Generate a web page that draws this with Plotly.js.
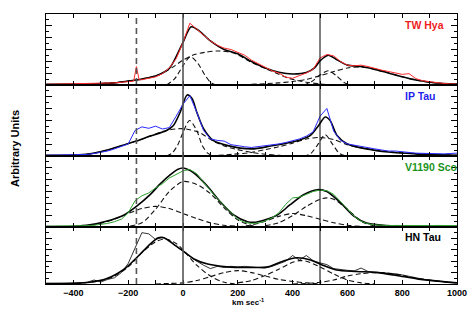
<!DOCTYPE html>
<html>
<head>
<meta charset="utf-8">
<script src="https://cdn.plot.ly/plotly-3.0.1.min.js"></script>
<style>
  html, body { margin: 0; padding: 0; background: #fff; }
  #chart { width: 471px; height: 314px; }
</style>
</head>
<body>
<div id="chart"></div>
<script>
// velocity grid of the observed profiles (km/s)
var vObs = [-500,-475,-450,-425,-400,-375,-350,-325,-300,-275,-250,-225,-200,-175,-150,-125,-100,-75,-50,-25,
            0,25,50,75,100,125,150,175,200,225,250,275,300,325,350,375,400,425,450,475,
            500,525,550,575,600,625,650,675,700,725,750,775,800,825,850,875,900,925,950,975,1000];
var twVel = [-500,-475,-450,-425,-400,-375,-350,-325,-300,-275,-250,-225,-200,-180,-170,-160,-150,-125,-100,-75,-50,-25,
            0,25,50,75,100,125,150,175,200,225,250,275,300,325,350,375,400,425,450,475,
            500,525,550,575,600,625,650,675,700,725,750,775,800,825,850,875,900,925,950,975,1000];

// --- TW Hya
var twObs = [0.01,0.012,0.01,0.013,0.012,0.015,0.016,0.02,0.022,0.026,0.03,0.038,0.048,0.055,0.26,0.07,0.075,0.1,0.115,0.16,0.24,0.37,
             0.6,0.87,0.79,0.71,0.62,0.56,0.52,0.5,0.46,0.42,0.35,0.3,0.24,0.2,0.17,0.11,0.095,0.13,0.17,0.22,
             0.38,0.43,0.41,0.33,0.28,0.27,0.28,0.26,0.23,0.21,0.19,0.17,0.15,0.16,0.09,0.06,0.045,0.03,0.022,0.016,0.012];
var twFitV = [-500,-400,-300,-250,-200,-150,-100,-50,-25,0,30,60,100,150,200,250,300,350,400,450,480,500,530,560,600,650,700,750,800,850,900,950,1000];
var twFit  = [0.01,0.012,0.02,0.03,0.055,0.085,0.127,0.235,0.4,0.6,0.82,0.76,0.62,0.5,0.44,0.33,0.24,0.18,0.155,0.175,0.24,0.34,0.42,0.36,0.28,0.26,0.22,0.17,0.115,0.07,0.04,0.02,0.014];
var twC1V = [-60,-30,0,27,55,80,100,120];
var twC1  = [0,0.09,0.27,0.4,0.3,0.14,0.04,0];
var twC2V = [-500,-400,-300,-200,-150,-100,-65,-30,0,35,80,125,185,250,320,390,450,500,550];
var twC2  = [0.005,0.01,0.02,0.055,0.085,0.13,0.19,0.27,0.35,0.42,0.46,0.48,0.45,0.32,0.2,0.09,0.04,0.015,0];
var twC3V = [440,470,500,530,560,590,615];
var twC3  = [0,0.05,0.14,0.2,0.13,0.03,0];
var twC4V = [250,350,400,450,500,550,600,650,700,750,800,850,900,950,1000];
var twC4  = [0.01,0.03,0.05,0.08,0.13,0.19,0.24,0.255,0.22,0.17,0.115,0.07,0.04,0.02,0.014];

// --- IP Tau
var ipObs = [0.01,0.012,0.01,0.012,0.014,0.018,0.022,0.035,0.05,0.07,0.1,0.13,0.17,0.36,0.41,0.39,0.42,0.38,0.4,0.56,
             0.73,0.85,0.62,0.36,0.24,0.22,0.21,0.16,0.14,0.13,0.12,0.13,0.14,0.15,0.17,0.19,0.21,0.24,0.28,0.34,
             0.56,0.67,0.35,0.22,0.17,0.15,0.13,0.12,0.1,0.085,0.07,0.07,0.055,0.05,0.04,0.035,0.03,0.035,0.03,0.035,0.04];
var ipFitV = [-500,-400,-340,-280,-220,-170,-120,-60,-35,-10,15,33,50,75,110,160,250,320,390,430,465,495,519,537,562,600,670,750,850,1000];
var ipFit  = [0.01,0.012,0.03,0.08,0.15,0.21,0.28,0.36,0.43,0.62,0.86,0.81,0.62,0.385,0.22,0.15,0.1,0.14,0.19,0.23,0.29,0.43,0.55,0.5,0.29,0.17,0.1,0.056,0.03,0.01];
var ipC1V = [-60,-40,-20,0,24,50,70,90,110];
var ipC1  = [0,0.04,0.15,0.33,0.5,0.36,0.15,0.04,0];
var ipC2V = [-500,-400,-340,-280,-220,-170,-120,-60,0,60,110,160,200,250,300,350,400];
var ipC2  = [0.005,0.012,0.03,0.08,0.15,0.21,0.28,0.36,0.385,0.33,0.21,0.13,0.09,0.05,0.025,0.01,0];
var ipC3V = [440,465,490,519,545,570,595];
var ipC3  = [0,0.03,0.15,0.3,0.17,0.04,0];
var ipC4V = [100,200,250,300,350,400,450,500,550,600,650,700,750,800,850,900,950,1000];
var ipC4  = [0,0.03,0.05,0.09,0.13,0.18,0.24,0.26,0.23,0.16,0.115,0.085,0.06,0.045,0.03,0.02,0.014,0.01];

// --- V1190 Sco
var vsObs = [0.01,0.01,0.012,0.01,0.012,0.015,0.02,0.025,0.035,0.05,0.075,0.11,0.2,0.37,0.44,0.48,0.55,0.61,0.69,0.74,
             0.79,0.81,0.75,0.63,0.51,0.4,0.3,0.2,0.11,0.065,0.05,0.055,0.085,0.13,0.2,0.32,0.41,0.42,0.46,0.5,
             0.52,0.51,0.46,0.36,0.25,0.15,0.08,0.045,0.03,0.022,0.02,0.022,0.02,0.02,0.022,0.02,0.02,0.022,0.02,0.02,0.02];
var vsFitV = [-500,-400,-340,-280,-215,-170,-120,-85,-45,-20,0,40,90,135,185,235,265,295,345,390,440,490,525,575,625,670,730,800,900,1000];
var vsFit  = [0.005,0.01,0.03,0.08,0.17,0.29,0.455,0.6,0.74,0.81,0.83,0.76,0.57,0.36,0.17,0.075,0.068,0.095,0.17,0.31,0.455,0.525,0.5,0.34,0.15,0.056,0.024,0.012,0.01,0.01];
var vsC1V = [-450,-400,-350,-300,-250,-200,-150,-100,-50,0,50,100,150,200,250];
var vsC1  = [0,0.005,0.02,0.05,0.11,0.19,0.26,0.29,0.26,0.19,0.12,0.06,0.025,0.01,0];
var vsC2V = [-250,-200,-150,-100,-50,0,50,100,150,200,250,300];
var vsC2  = [0,0.01,0.06,0.25,0.5,0.64,0.6,0.47,0.27,0.1,0.02,0];
var vsC3V = [200,250,300,350,400,450,500,550,600,650,700];
var vsC3  = [0,0.03,0.08,0.15,0.19,0.16,0.11,0.06,0.025,0.008,0];
var vsC4V = [300,350,400,450,500,525,550,600,650,700,750];
var vsC4  = [0.02,0.06,0.16,0.29,0.39,0.41,0.39,0.25,0.08,0.015,0];

// --- HN Tau
var hnObs = [0.01,0.012,0.015,0.01,0.02,0.015,0.03,0.07,0.035,0.08,0.11,0.2,0.36,0.62,0.9,0.88,0.78,0.82,0.77,0.66,
             0.57,0.48,0.4,0.33,0.27,0.31,0.29,0.31,0.3,0.31,0.3,0.3,0.28,0.31,0.35,0.4,0.5,0.42,0.5,0.41,
             0.37,0.34,0.27,0.25,0.24,0.23,0.28,0.22,0.21,0.2,0.2,0.18,0.16,0.14,0.11,0.085,0.06,0.05,0.04,0.03,0.02];
var hnFitV = [-500,-400,-340,-280,-215,-180,-155,-120,-90,-70,-35,0,40,90,160,250,310,365,415,465,515,560,635,710,780,855,930,1000];
var hnFit  = [0.01,0.012,0.03,0.09,0.26,0.41,0.53,0.7,0.81,0.81,0.7,0.58,0.44,0.35,0.3,0.29,0.3,0.4,0.46,0.42,0.32,0.245,0.22,0.2,0.15,0.09,0.05,0.02];
var hnC1V = [-450,-400,-350,-300,-250,-200,-150,-100,-65,-25,0,50,100,150,200];
var hnC1  = [0.005,0.01,0.025,0.06,0.14,0.3,0.55,0.74,0.79,0.71,0.6,0.33,0.14,0.03,0];
var hnC2V = [-100,-50,0,50,100,150,200,250,300,350,400,450,500];
var hnC2  = [0,0.01,0.02,0.06,0.13,0.2,0.235,0.2,0.14,0.08,0.045,0.02,0];
var hnC3V = [200,250,300,350,400,425,450,500,550,600,650,700];
var hnC3  = [0.02,0.06,0.15,0.26,0.38,0.41,0.4,0.3,0.175,0.07,0.02,0];
var hnC4V = [400,450,500,550,600,650,700,750,800,850,900,950,1000];
var hnC4  = [0,0.01,0.03,0.07,0.14,0.18,0.2,0.19,0.15,0.1,0.07,0.04,0.02];

var starNames = ['TW Hya', 'IP Tau', 'V1190 Sco', 'HN Tau'];
var refVel = [-170, 0, 500];

var panels = [
    {obsV: twVel, obs: twObs, fitV: twFitV, fit: twFit, comps: [[twC1V,twC1],[twC2V,twC2],[twC3V,twC3],[twC4V,twC4]], color: '#ff2a2a', lab: '#ee1c1c'},
    {obsV: vObs, obs: ipObs, fitV: ipFitV, fit: ipFit, comps: [[ipC1V,ipC1],[ipC2V,ipC2],[ipC3V,ipC3],[ipC4V,ipC4]], color: '#2a2aff', lab: '#1f1fee'},
    {obsV: vObs, obs: vsObs, fitV: vsFitV, fit: vsFit, comps: [[vsC1V,vsC1],[vsC2V,vsC2],[vsC3V,vsC3],[vsC4V,vsC4]], color: '#2ea02e', lab: '#1c941c'},
    {obsV: vObs, obs: hnObs, fitV: hnFitV, fit: hnFit, comps: [[hnC1V,hnC1],[hnC2V,hnC2],[hnC3V,hnC3],[hnC4V,hnC4]], color: '#000000', lab: '#000000'}
];

// plot area 14..284 px, panel heights 71,71,71,57
var domains = [[0.737, 1], [0.4741, 0.737], [0.2111, 0.4741], [0, 0.2111]];

var data = [];
var layout = {
    width: 471, height: 314,
    margin: {l: 46, r: 14, t: 14, b: 30},
    paper_bgcolor: '#fff', plot_bgcolor: '#fff',
    showlegend: false,
    font: {family: 'Liberation Sans, Arial, sans-serif', size: 9, color: '#000'},
    shapes: [], annotations: []
};

panels.forEach(function (p, i) {
    var n = i === 0 ? '' : String(i + 1);
    p.comps.forEach(function (c) {
        data.push({x: c[0], y: c[1], xaxis: 'x' + n, yaxis: 'y' + n, mode: 'lines',
                   line: {color: '#111', width: 1.1, dash: '5px,3px', shape: 'spline', smoothing: 0.8}, hoverinfo: 'skip'});
    });
    data.push({x: p.fitV, y: p.fit, xaxis: 'x' + n, yaxis: 'y' + n, mode: 'lines',
               line: {color: '#000', width: 1.6, shape: 'spline', smoothing: 0.8}, hoverinfo: 'skip'});
    data.push({x: p.obsV, y: p.obs, xaxis: 'x' + n, yaxis: 'y' + n, mode: 'lines',
               line: {color: p.color, width: i === 3 ? 0.8 : 1}, hoverinfo: 'skip'});

    var yd = i === 3 ? 0.2 : 1 / 6;
    layout['xaxis' + n] = {
        domain: [0, 1], anchor: 'y' + n, range: [-500, 1000],
        showline: true, linecolor: '#000', linewidth: 1, mirror: 'ticks',
        ticks: 'inside', ticklen: 4, tickcolor: '#000', tick0: 0, dtick: 200,
        minor: {dtick: 100, ticks: 'inside', ticklen: 4, tickcolor: '#000'},
        showticklabels: i === 3, showgrid: false, zeroline: false,
        tickfont: {size: 9, weight: 'bold'}
    };
    layout['yaxis' + n] = {
        domain: domains[i], anchor: 'x' + n, range: [0, 1],
        showline: true, linecolor: '#000', linewidth: 1, mirror: 'ticks',
        ticks: 'inside', ticklen: 6, tickcolor: '#000', tick0: 0, dtick: yd,
        minor: {dtick: yd / 2, ticks: 'inside', ticklen: 3, tickcolor: '#000'},
        showticklabels: false, showgrid: false, zeroline: false
    };
    layout.annotations.push({
        text: starNames[i], xref: 'paper', x: 0.8686, xanchor: 'left',
        yref: 'y' + n + ' domain', y: i === 3 ? 0.825 : 0.845, yanchor: 'middle',
        showarrow: false, font: {size: 10.5, weight: 'bold', color: p.lab}
    });
});

layout.shapes.push({type: 'line', xref: 'x', yref: 'paper', x0: refVel[0], x1: refVel[0], y0: 0, y1: 1,
                    line: {color: '#555', width: 1.6, dash: '6px,4px'}});
layout.shapes.push({type: 'line', xref: 'x', yref: 'paper', x0: refVel[1], x1: refVel[1], y0: 0, y1: 1,
                    line: {color: '#555', width: 1.6}});
layout.shapes.push({type: 'line', xref: 'x', yref: 'paper', x0: refVel[2], x1: refVel[2], y0: 0, y1: 1,
                    line: {color: '#000', width: 1}});

layout.annotations.push({text: 'km sec<sup>-1</sup>', xref: 'paper', x: 0.4927, xanchor: 'center',
                         yref: 'paper', y: -0.0667, yanchor: 'middle', showarrow: false,
                         font: {size: 8, weight: 'bold'}});
layout.annotations.push({text: 'Arbitrary Units', xref: 'paper', x: -0.0754, xanchor: 'center',
                         yref: 'paper', y: 0.5, yanchor: 'middle', textangle: -90, showarrow: false,
                         font: {size: 11, weight: 'bold'}});

var config = {staticPlot: true};

Plotly.newPlot('chart', data, layout, config);
</script>
</body>
</html>
